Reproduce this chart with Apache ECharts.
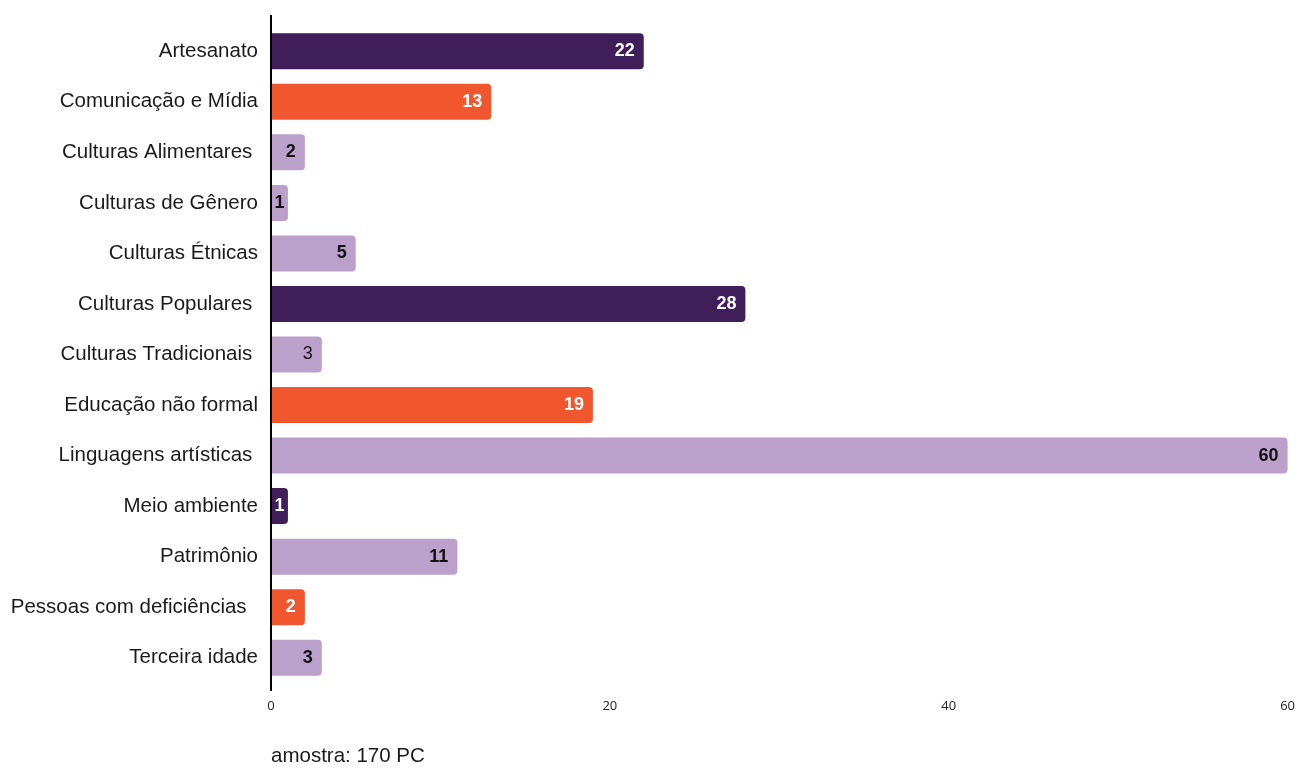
<!DOCTYPE html>
<html>
<head>
<meta charset="utf-8">
<script src="https://cdn.jsdelivr.net/npm/echarts@6/dist/echarts.min.js"></script>
<style>
  html, body { margin: 0; padding: 0; background: #fff; }
  #chart { width: 1298px; height: 769px; }
</style>
</head>
<body>
<div id="chart"></div>
<script>
// Áreas de atuação dos Pontos de Cultura
const categories = [
  'Artesanato', 'Comunicação e Mídia', 'Culturas Alimentares ', 'Culturas de Gênero',
  'Culturas Étnicas', 'Culturas Populares ', 'Culturas Tradicionais ', 'Educação não formal',
  'Linguagens artísticas ', 'Meio ambiente', 'Patrimônio', 'Pessoas com deficiências  ', 'Terceira idade'
];
const values = [22, 13, 2, 1, 5, 28, 3, 19, 60, 1, 11, 2, 3];
const groups = ['a', 'b', 'c', 'c', 'c', 'a', 'c', 'b', 'c', 'a', 'c', 'b', 'c'];
const xTicks = [0, 20, 40, 60];
const footnote = 'amostra: 170 PC';

const palette = {
  a: { bar: '#401e5a', text: '#ffffff' },
  b: { bar: '#f0572f', text: '#ffffff' },
  c: { bar: '#bba0cc', text: '#111111' }
};

const seriesData = values.map((v, i) => {
  const g = palette[groups[i]];
  const label = {
    color: g.text,
    fontWeight: categories[i].trim() === 'Culturas Tradicionais' ? 'normal' : 'bold'
  };
  // barras muito curtas: rótulo centrado dentro da barra
  if (v < 2) label.position = 'inside';
  return { value: v, itemStyle: { color: g.bar }, label };
});

const chart = echarts.init(document.getElementById('chart'), null, { renderer: 'canvas' });

function buildGraphics() {
  const x0 = chart.convertToPixel({ xAxisIndex: 0 }, 0);
  const rect = chart.getModel().getComponent('grid').coordinateSystem.getRect();
  return [{
    type: 'text',
    left: 271,
    top: 746,
    style: { text: footnote, fill: '#1a1a1a', font: '20.5px "Liberation Sans"' }
  }, {
    // linha vertical do eixo em x = 0, um pouco além da área das barras
    type: 'line',
    shape: { x1: x0, y1: rect.y - 11, x2: x0, y2: rect.y + rect.height + 8 },
    style: { stroke: '#000', lineWidth: 2 },
    z: 10
  }];
}

chart.setOption({
  animation: false,
  backgroundColor: '#ffffff',
  grid: { left: 271, right: 10, top: 26, bottom: 86, containLabel: false },
  xAxis: {
    type: 'value',
    min: xTicks[0],
    max: xTicks[xTicks.length - 1],
    interval: 20,
    axisLine: { show: false },
    axisTick: { show: false },
    splitLine: { show: false },
    axisLabel: {
      color: '#222',
      fontFamily: 'Open Sans',
      fontSize: 13,
      margin: 17
    }
  },
  yAxis: {
    type: 'category',
    data: categories,
    inverse: true,
    axisLine: { show: false },
    axisTick: { show: false },
    axisLabel: {
      color: '#1a1a1a',
      fontFamily: 'Liberation Sans',
      fontSize: 20.5,
      margin: 13
    }
  },
  series: [{
    type: 'bar',
    data: seriesData,
    barWidth: 36,
    itemStyle: { borderRadius: [0, 4, 4, 0] },
    label: {
      show: true,
      position: 'insideRight',
      distance: 9,
      fontFamily: 'Liberation Sans',
      fontSize: 18
    }
  }]
});

chart.setOption({ graphic: buildGraphics() });
</script>
</body>
</html>
